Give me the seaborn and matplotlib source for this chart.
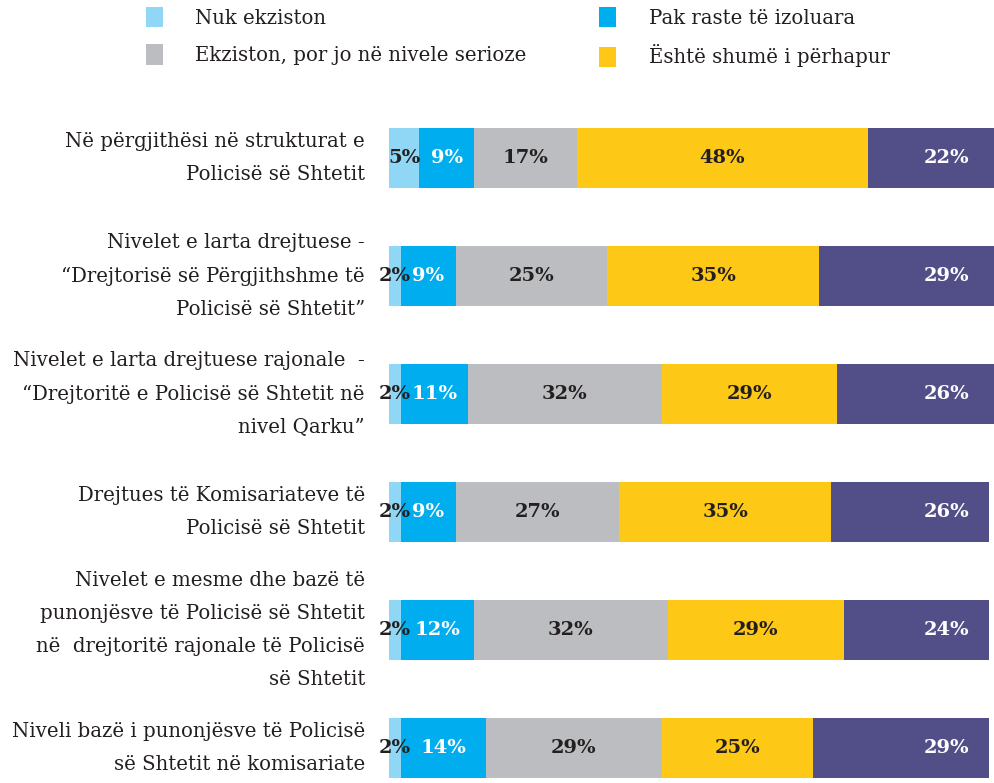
import matplotlib

matplotlib.use("Agg")
import matplotlib.pyplot as plt
from matplotlib.patches import Patch
import pandas as pd
import seaborn as sns

categories = [
    "Në përgjithësi në strukturat e\nPolicisë së Shtetit",
    "Nivelet e larta drejtuese -\n“Drejtorisë së Përgjithshme të\nPolicisë së Shtetit”",
    "Nivelet e larta drejtuese rajonale  -\n“Drejtoritë e Policisë së Shtetit në\nnivel Qarku”",
    "Drejtues të Komisariateve të\nPolicisë së Shtetit",
    "Nivelet e mesme dhe bazë të\npunonjësve të Policisë së Shtetit\nnë  drejtoritë rajonale të Policisë\nsë Shtetit",
    "Niveli bazë i punonjësve të Policisë\nsë Shtetit në komisariate",
]

# series, in stacking order (the last one is not in the visible legend)
nuk_ekziston = [5, 2, 2, 2, 2, 2]
pak_raste = [9, 9, 11, 9, 12, 14]
jo_serioze = [17, 25, 32, 27, 32, 29]
shume_perhapur = [48, 35, 29, 35, 29, 25]
seg5 = [22, 29, 26, 26, 24, 29]

series_names = [
    "Nuk ekziston",
    "Pak raste të izoluara",
    "Ekziston, por jo në nivele serioze",
    "Është shumë i përhapur",
    "seg5",
]
series_values = [nuk_ekziston, pak_raste, jo_serioze, shume_perhapur, seg5]
colors = ["#8fd7f5", "#00aeef", "#bcbdc0", "#fdc816", "#524f88"]
text_colors = ["#231f20", "white", "#231f20", "#231f20", "white"]

df = pd.DataFrame({name: vals for name, vals in zip(series_names, series_values)})
df["category"] = categories
cum = df[series_names].cumsum(axis=1)
left = cum - df[series_names]
cum["category"] = categories

sns.set_style("white")
plt.rcParams["font.family"] = ["DejaVu Serif"]

fig = plt.figure(figsize=(9.95, 7.83), dpi=100)
ax = fig.add_axes([389 / 995, 0, 606 / 995, 1 - 99 / 783])

# draw cumulative totals from the longest down so they look stacked
for name, color in reversed(list(zip(series_names, colors))):
    sns.barplot(data=cum, x=name, y="category", color=color, saturation=1,
                width=0.51, linewidth=0, orient="h", ax=ax)

for j, name in enumerate(series_names):
    for i in range(len(categories)):
        v = df.loc[i, name]
        x = left.loc[i, name] + v / 2 if j < 4 else 92
        ax.text(x, i, f"{v}%", ha="center", va="center", fontsize=14,
                fontweight="bold", color=text_colors[j])

ax.set_xlim(0, 100)
ax.set_ylim(5.297, -0.5)
ax.set_xlabel("")
ax.set_ylabel("")
ax.set_xticks([])
ax.set_yticks([])
for i, cat in enumerate(categories):
    ax.text(-24 / 606, i, cat, transform=ax.get_yaxis_transform(), ha="right",
            va="center", multialignment="right", fontsize=14.2, linespacing=1.95,
            color="#231f20")
sns.despine(ax=ax, left=True, bottom=True)

order = [0, 2, 1, 3]
handles = [Patch(facecolor=colors[k], edgecolor="none", label=series_names[k]) for k in order]
fig.legend(handles=handles, ncol=2, loc="upper left", bbox_to_anchor=(128 / 995, 1.014),
           frameon=False, fontsize=14.2, handlelength=0.85, handleheight=1.2,
           handletextpad=1.65, columnspacing=3.7, labelspacing=0.85,
           labelcolor="#231f20")

fig.savefig("out.png", dpi=100)
plt.close(fig)
